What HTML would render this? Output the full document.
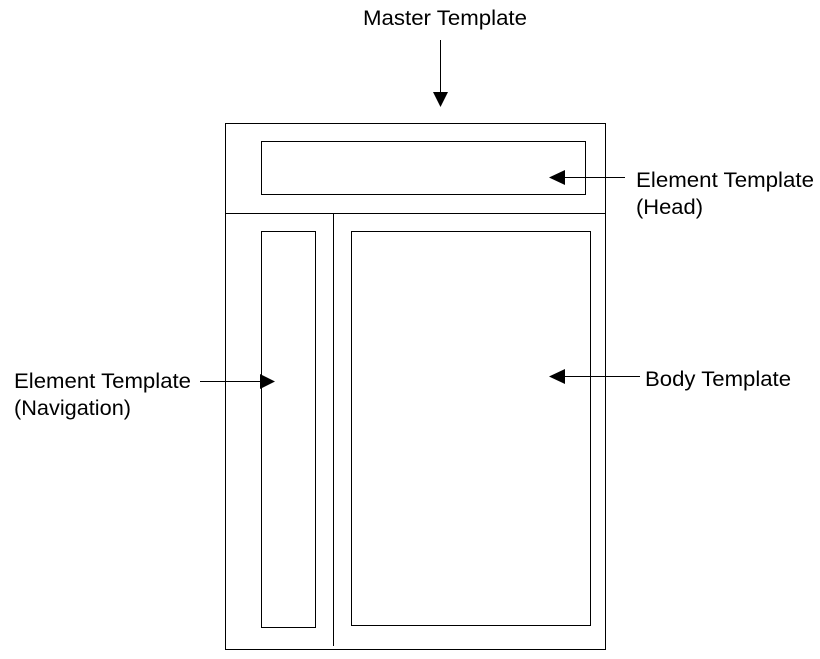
<!DOCTYPE html>
<html><head><style>
html,body{margin:0;padding:0;background:#fff;}
svg{display:block;}
text{font-family:"Liberation Sans",Arial,sans-serif;font-size:21px;fill:#000;}
</style></head><body>
<svg width="820" height="659" viewBox="0 0 820 659">
<g fill="none" stroke="#000" stroke-width="1">
<rect x="225.5" y="123.5" width="380" height="526"/>
<line x1="225" y1="213.5" x2="605" y2="213.5"/>
<line x1="333.5" y1="213" x2="333.5" y2="646"/>
<rect x="261.5" y="141.5" width="324" height="53"/>
<rect x="261.5" y="231.5" width="54" height="396"/>
<rect x="351.5" y="231.5" width="239" height="394"/>
<line x1="440.5" y1="40" x2="440.5" y2="94"/>
<line x1="565" y1="177.5" x2="625" y2="177.5"/>
<line x1="200" y1="381.5" x2="262" y2="381.5"/>
<line x1="565" y1="376.5" x2="640" y2="376.5"/>
</g>
<g fill="#000">
<polygon points="433,92 448,92 440.5,107"/>
<polygon points="549,177.5 565,170 565,185"/>
<polygon points="275,381.5 260,374 260,389"/>
<polygon points="549,376.5 565,369 565,384"/>
</g>
<text x="363" y="25" textLength="164" lengthAdjust="spacingAndGlyphs">Master Template</text>
<text x="636" y="187" textLength="178" lengthAdjust="spacingAndGlyphs">Element Template</text>
<text x="636" y="214" textLength="67" lengthAdjust="spacingAndGlyphs">(Head)</text>
<text x="14" y="388" textLength="177" lengthAdjust="spacingAndGlyphs">Element Template</text>
<text x="14" y="415" textLength="117" lengthAdjust="spacingAndGlyphs">(Navigation)</text>
<text x="645" y="386" textLength="146" lengthAdjust="spacingAndGlyphs">Body Template</text>
</svg>
</body></html>
